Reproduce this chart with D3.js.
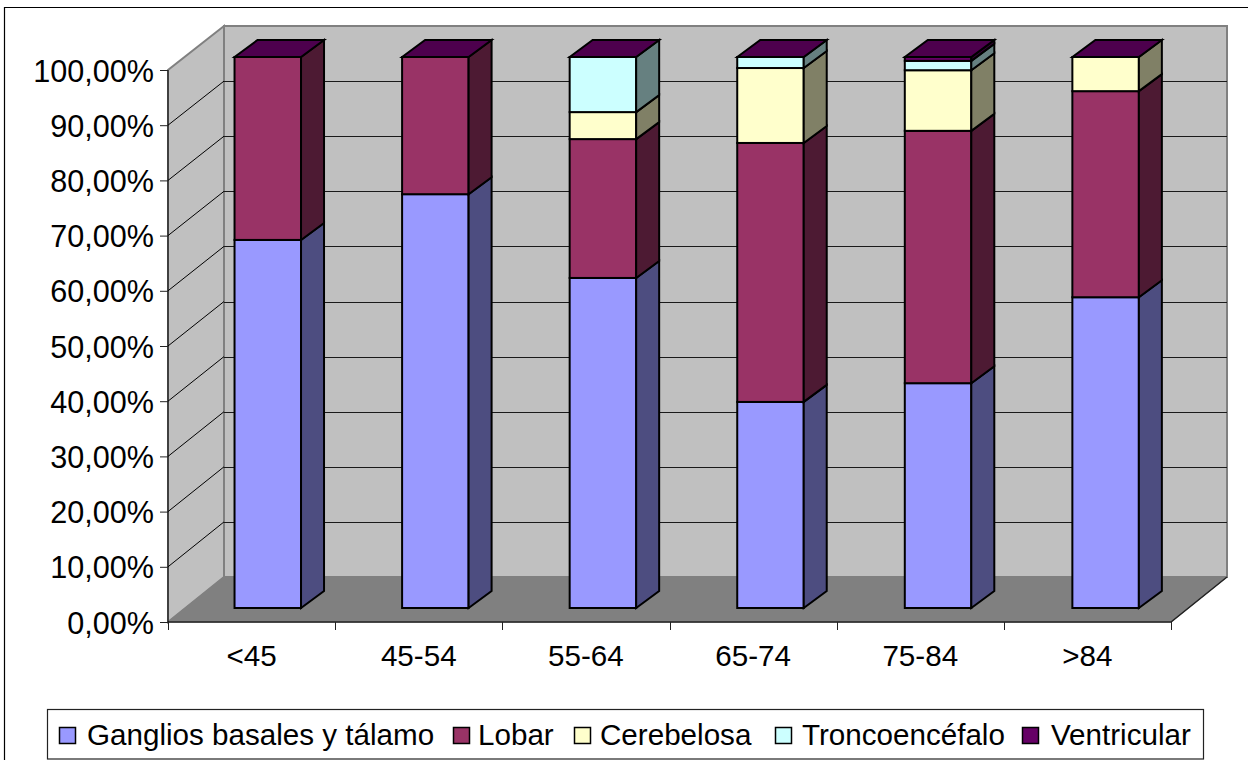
<!DOCTYPE html>
<html><head><meta charset="utf-8">
<style>html,body{margin:0;padding:0;background:#fff}svg{display:block}text{font-family:"Liberation Sans",Arial,sans-serif;fill:#000}</style>
<script src="https://cdn.jsdelivr.net/npm/d3@7"></script></head>
<body><svg id="c" width="1248" height="760"></svg>
<script>
const categories=["<45","45-54","55-64","65-74","75-84",">84"];
const seriesNames=["Ganglios basales y tálamo","Lobar","Cerebelosa","Troncoencéfalo","Ventricular"];
const ganglios=[66.8,75.1,59.9,37.4,40.8,56.4];
const lobar=[33.2,24.9,25.2,47.0,45.8,37.4];
const cerebelosa=[0,0,4.9,13.6,11.0,6.2];
const tronco=[0,0,10.0,2.0,1.7,0];
const ventricular=[0,0,0,0,0.7,0];
const seriesValues=[ganglios,lobar,cerebelosa,tronco,ventricular];
const frontColors=["#9999ff","#993366","#ffffcc","#ccffff","#660066"];
const sideColors=["#4d4d80","#4d1a33","#808066","#668080","#330033"];
const topColor="#4d004d";
const yTicks=d3.range(0,101,10);
const fmt=v=>v.toFixed(2).replace(".",",")+"%";

const svg=d3.select("#c");
const L=168,R=1171,B=622,T=70,DX=56,BB=577,BT=26;
const cat=d3.scaleBand().domain(categories).range([L,R]);
const barBand=d3.scaleBand().domain(categories).range([184,1189.4]);
const y=d3.scaleLinear().domain([0,100]).range([B,T]);
const yBack=d3.scaleLinear().domain([0,100]).range([BB,BT]);
const yBar=d3.scaleLinear().domain([0,100]).range([608,57]);
const barW=66.5, bdx=23, bdy=-17;
const line=pts=>"M"+pts.map(p=>p.join(",")).join("L")+"Z";
const FS="29.6px";

svg.append("path").attr("d","M4.5,760V7.5H1248").attr("fill","#fff").attr("stroke","#000").attr("stroke-width",1.2);
// walls
svg.append("path").attr("d",line([[L,B],[L+DX,BB],[L+DX,BT],[L,T]])).attr("fill","#c0c0c0").attr("stroke","#808080").attr("stroke-width",2);
svg.append("path").attr("d",line([[L+DX,BB],[R+DX,BB],[R+DX,BT],[L+DX,BT]])).attr("fill","#c0c0c0").attr("stroke","#808080").attr("stroke-width",2);
svg.append("path").attr("d",line([[L,B],[R,B],[R+DX,BB],[L+DX,BB]])).attr("fill","#808080").attr("stroke","#808080");
// gridlines
const grid=yTicks.filter(t=>t>0&&t<100);
svg.append("g").selectAll("path").data(grid).join("path")
 .attr("d",t=>`M${L},${y(t)}L${L+DX},${yBack(t)}`)
 .attr("fill","none").attr("stroke","#000").attr("stroke-width",1);
svg.append("g").selectAll("line").data(grid).join("line")
 .attr("x1",L+DX).attr("x2",R+DX).attr("y1",t=>Math.round(yBack(t))+.5).attr("y2",t=>Math.round(yBack(t))+.5)
 .attr("stroke","#1a1a1a").attr("stroke-width",1);
svg.append("path").attr("d",`M${L},${B}L${R},${B}L${R+DX},${BB}`).attr("fill","none").attr("stroke","#222").attr("stroke-width",1.5);
svg.append("path").attr("d",`M${L},${T}V${B}`).attr("stroke","#000").attr("stroke-width",1);
// axes
const yAxis=d3.axisLeft(y).tickValues(yTicks).tickFormat(fmt).tickSize(8).tickPadding(0);
svg.append("g").attr("transform",`translate(${L},0)`).call(yAxis).call(g=>{
  g.select(".domain").remove();
  g.selectAll("line").attr("stroke","#222");
  g.selectAll("text").attr("x",-14).attr("dy","0.36em").style("font-size","30.6px").attr("font-family",null);
});
const xAxis=d3.axisBottom(cat).tickSize(0).tickPadding(0);
svg.append("g").attr("transform",`translate(0,${B})`).call(xAxis).call(g=>{
  g.select(".domain").remove();
  g.selectAll("line").remove();
  g.selectAll("text").attr("y",33).attr("dy","0.36em").style("font-size",FS).attr("font-family",null);
});
svg.append("g").selectAll("line").data(d3.range(0,7)).join("line")
 .attr("x1",i=>Math.round(L+i*cat.step())+.5).attr("x2",i=>Math.round(L+i*cat.step())+.5).attr("y1",B).attr("y2",B+8).attr("stroke","#222");
// bars
const gBars=svg.append("g").attr("stroke","#000").attr("stroke-width",2).attr("stroke-linejoin","miter");
categories.forEach((c,i)=>{
  const bx=barBand(c)+(barBand.step()-barW)/2;
  let cum=0;
  seriesValues.forEach((vals,s)=>{
    const v=vals[i]; if(!v) return;
    const y0=yBar(cum), y1=yBar(cum+v); cum+=v;
    gBars.append("rect").attr("x",bx).attr("y",y1).attr("width",barW).attr("height",y0-y1).attr("fill",frontColors[s]);
    gBars.append("path").attr("d",line([[bx+barW,y0],[bx+barW+bdx,y0+bdy],[bx+barW+bdx,y1+bdy],[bx+barW,y1]])).attr("fill",sideColors[s]);
  });
  const t=yBar(cum);
  gBars.append("path").attr("d",line([[bx,t],[bx+bdx,t+bdy],[bx+barW+bdx,t+bdy],[bx+barW,t]])).attr("fill",topColor);
});
// legend
svg.append("rect").attr("x",47.5).attr("y",709.5).attr("width",1156).attr("height",49.5).attr("fill","#fff").attr("stroke","#222").attr("stroke-width",1.2);
const legX=[59,453,574,775,1022], txtX=[87,478,600,802,1051];
const leg=svg.append("g").selectAll("g").data(seriesNames).join("g");
leg.append("rect").attr("x",(d,i)=>legX[i]+.5).attr("y",727.5).attr("width",16).attr("height",16).attr("fill",(d,i)=>frontColors[i]).attr("stroke","#000").attr("stroke-width",1.5);
leg.append("text").attr("x",(d,i)=>txtX[i]).attr("y",745).style("font-size",FS).text(d=>d);
</script></body></html>
